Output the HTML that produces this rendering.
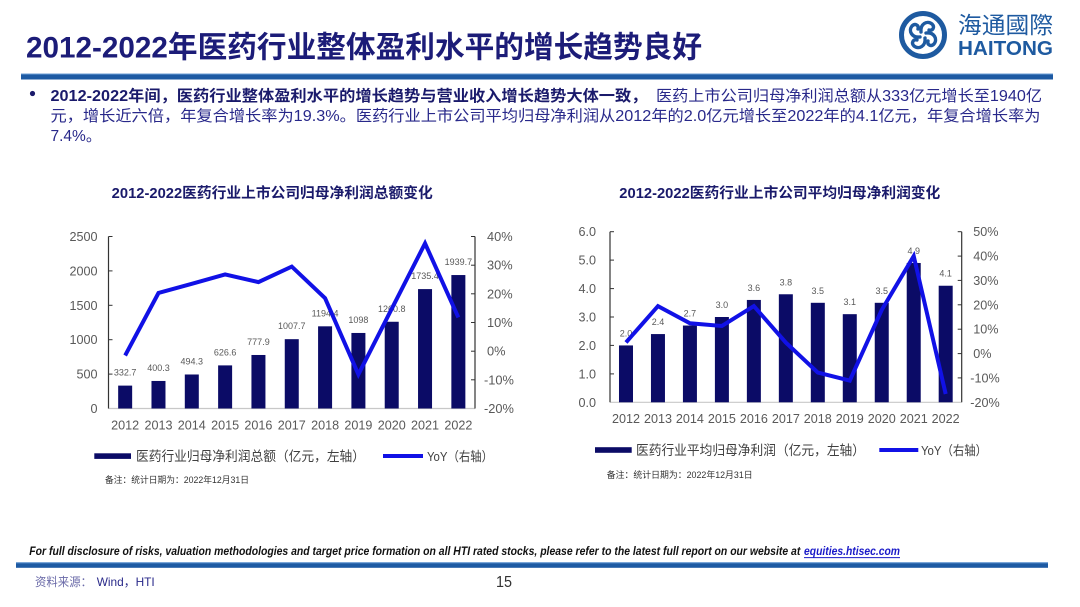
<!DOCTYPE html>
<html>
<head>
<meta charset="utf-8">
<style>
  html,body{margin:0;padding:0;background:#fff;}
  body{width:1080px;height:607px;overflow:hidden;}
  svg{display:block;}
  .f{font-family:"Liberation Sans","Noto Sans CJK SC",sans-serif;}
</style>
</head>
<body>
<svg width="1080" height="607" viewBox="0 0 1080 607" xmlns="http://www.w3.org/2000/svg" class="f">
  <rect x="0" y="0" width="1080" height="607" fill="#ffffff"/>

  <!-- Title -->
  <text x="26" y="57.5" font-size="30" font-weight="bold" fill="#1c1c78" textLength="676" lengthAdjust="spacingAndGlyphs">2012-2022年医药行业整体盈利水平的增长趋势良好</text>

  <!-- Logo -->
  <g fill="none" stroke="#1e5aa0">
    <circle cx="923" cy="35" r="21.5" stroke-width="5"/>
    <g stroke-width="3.4" stroke-linecap="round">
      <path d="M923,35 m-3,-3 C917,-0 0,0 0,0" stroke="none"/>
      <g transform="translate(923,35)">
        <path d="M-2,-3 C-3,-11 4,-15 9,-11 C12,-8 10,-4 6,-5"/>
        <path d="M-2,-3 C-3,-11 4,-15 9,-11 C12,-8 10,-4 6,-5" transform="rotate(90)"/>
        <path d="M-2,-3 C-3,-11 4,-15 9,-11 C12,-8 10,-4 6,-5" transform="rotate(180)"/>
        <path d="M-2,-3 C-3,-11 4,-15 9,-11 C12,-8 10,-4 6,-5" transform="rotate(270)"/>
      </g>
    </g>
  </g>
  <text x="958" y="33" font-size="23" fill="#1e5aa0" textLength="95" lengthAdjust="spacingAndGlyphs">海通國際</text>
  <text x="958" y="55" font-size="20.5" font-weight="bold" fill="#1e5aa0" textLength="95" lengthAdjust="spacingAndGlyphs">HAITONG</text>

  <!-- Top bar -->
  <rect x="21" y="73.5" width="1032" height="6" fill="#1d5aa3"/>
  <rect x="21" y="73.5" width="1032" height="1" fill="#6c9ed6"/>

  <!-- Bullet text -->
  <circle cx="32.5" cy="93.5" r="2.6" fill="#1a1a6b"/>
  <text x="50.5" y="101" font-size="15.5" font-weight="bold" fill="#1a1a6b" textLength="597" lengthAdjust="spacingAndGlyphs">2012-2022年间，医药行业整体盈利水平的增长趋势与营业收入增长趋势大体一致，</text>
  <text x="656" y="101" font-size="15.5" fill="#28288a" textLength="386" lengthAdjust="spacingAndGlyphs">医药上市公司归母净利润总额从333亿元增长至1940亿</text>
  <text x="50.5" y="121" font-size="15.5" fill="#28288a" textLength="990" lengthAdjust="spacingAndGlyphs">元，增长近六倍，年复合增长率为19.3%。医药行业上市公司平均归母净利润从2012年的2.0亿元增长至2022年的4.1亿元，年复合增长率为</text>
  <text x="50.5" y="141" font-size="15.5" fill="#28288a">7.4%。</text>

  <!-- ================= LEFT CHART ================= -->
  <text x="111.7" y="198" font-size="14.5" font-weight="bold" fill="#1a1a6b" textLength="321" lengthAdjust="spacingAndGlyphs">2012-2022医药行业上市公司归母净利润总额变化</text>

  <!-- axes -->
  <line x1="108.5" y1="408.5" x2="475" y2="408.5" stroke="#c8c8c8" stroke-width="1.2"/>
  <line x1="108.5" y1="236.5" x2="108.5" y2="408.5" stroke="#333" stroke-width="1.2"/>
  <line x1="475" y1="236.5" x2="475" y2="408.5" stroke="#333" stroke-width="1.2"/>
  <g stroke="#333" stroke-width="1">
    <line x1="108.5" y1="236.5" x2="112.5" y2="236.5"/>
    <line x1="108.5" y1="270.9" x2="112.5" y2="270.9"/>
    <line x1="108.5" y1="305.3" x2="112.5" y2="305.3"/>
    <line x1="108.5" y1="339.7" x2="112.5" y2="339.7"/>
    <line x1="108.5" y1="374.1" x2="112.5" y2="374.1"/>
    <line x1="471" y1="236.5" x2="475" y2="236.5"/>
    <line x1="471" y1="265.2" x2="475" y2="265.2"/>
    <line x1="471" y1="293.8" x2="475" y2="293.8"/>
    <line x1="471" y1="322.5" x2="475" y2="322.5"/>
    <line x1="471" y1="351.2" x2="475" y2="351.2"/>
    <line x1="471" y1="379.8" x2="475" y2="379.8"/>
  </g>

  <!-- left ticks -->
  <g font-size="12.6" fill="#595959" text-anchor="end">
    <text x="97.5" y="241">2500</text>
    <text x="97.5" y="275.4">2000</text>
    <text x="97.5" y="309.8">1500</text>
    <text x="97.5" y="344.2">1000</text>
    <text x="97.5" y="378.6">500</text>
    <text x="97.5" y="413">0</text>
  </g>
  <g font-size="12.8" fill="#595959">
    <text x="487" y="241">40%</text>
    <text x="487" y="269.7">30%</text>
    <text x="487" y="298.3">20%</text>
    <text x="487" y="327">10%</text>
    <text x="487" y="355.7">0%</text>
    <text x="484" y="384.3">-10%</text>
    <text x="484" y="413">-20%</text>
  </g>
  <g font-size="12.6" fill="#595959" text-anchor="middle">
    <text x="125.16" y="429.5">2012</text>
    <text x="158.48" y="429.5">2013</text>
    <text x="191.80" y="429.5">2014</text>
    <text x="225.12" y="429.5">2015</text>
    <text x="258.44" y="429.5">2016</text>
    <text x="291.76" y="429.5">2017</text>
    <text x="325.08" y="429.5">2018</text>
    <text x="358.40" y="429.5">2019</text>
    <text x="391.72" y="429.5">2020</text>
    <text x="425.04" y="429.5">2021</text>
    <text x="458.36" y="429.5">2022</text>
  </g>

  <!-- bars -->
  <g fill="#0b0b66">
    <rect x="118.16" y="385.61" width="14" height="22.89"/>
    <rect x="151.48" y="380.96" width="14" height="27.54"/>
    <rect x="184.80" y="374.49" width="14" height="34.01"/>
    <rect x="218.12" y="365.39" width="14" height="43.11"/>
    <rect x="251.44" y="354.98" width="14" height="53.52"/>
    <rect x="284.76" y="339.17" width="14" height="69.33"/>
    <rect x="318.08" y="326.32" width="14" height="82.18"/>
    <rect x="351.40" y="332.96" width="14" height="75.54"/>
    <rect x="384.72" y="321.76" width="14" height="86.74"/>
    <rect x="418.04" y="289.10" width="14" height="119.40"/>
    <rect x="451.36" y="275.05" width="14" height="133.45"/>
  </g>
  <g font-size="9" fill="#595959" text-anchor="middle">
    <text x="125.16" y="375.6">332.7</text>
    <text x="158.48" y="371">400.3</text>
    <text x="191.80" y="364.5">494.3</text>
    <text x="225.12" y="355.4">626.6</text>
    <text x="258.44" y="345">777.9</text>
    <text x="291.76" y="329.2">1007.7</text>
    <text x="325.08" y="316.3">1194.4</text>
    <text x="358.40" y="323">1098</text>
    <text x="391.72" y="311.8">1260.8</text>
    <text x="425.04" y="279.1">1735.4</text>
    <text x="458.36" y="265">1939.7</text>
  </g>
  <polyline fill="none" stroke="#1111e6" stroke-width="4" stroke-linejoin="miter" stroke-miterlimit="10"
    points="125.16,355.5 158.48,293.0 191.80,283.8 225.12,274.4 258.44,282.1 291.76,266.6 325.08,298.2 358.40,374.4 391.72,308.8 425.04,243.4 458.36,317.4"/>

  <!-- legend -->
  <rect x="94.3" y="453.3" width="36.7" height="5.6" fill="#0b0b66"/>
  <text x="136" y="461" font-size="13.5" fill="#404040" textLength="229" lengthAdjust="spacingAndGlyphs">医药行业归母净利润总额（亿元，左轴）</text>
  <line x1="383" y1="456" x2="423" y2="456" stroke="#1111e6" stroke-width="4"/>
  <text x="427" y="461" font-size="13" fill="#404040" textLength="66" lengthAdjust="spacingAndGlyphs">YoY（右轴）</text>
  <text x="105" y="483" font-size="9" fill="#333" textLength="144" lengthAdjust="spacingAndGlyphs">备注：统计日期为：2022年12月31日</text>

  <!-- ================= RIGHT CHART ================= -->
  <text x="619.3" y="198" font-size="14.5" font-weight="bold" fill="#1a1a6b" textLength="321" lengthAdjust="spacingAndGlyphs">2012-2022医药行业上市公司平均归母净利润变化</text>

  <line x1="610" y1="402.3" x2="961.7" y2="402.3" stroke="#c8c8c8" stroke-width="1.2"/>
  <line x1="610" y1="231.7" x2="610" y2="402.3" stroke="#333" stroke-width="1.2"/>
  <line x1="961.7" y1="231.7" x2="961.7" y2="402.3" stroke="#333" stroke-width="1.2"/>
  <g stroke="#333" stroke-width="1">
    <line x1="610" y1="231.7" x2="614" y2="231.7"/>
    <line x1="610" y1="260.1" x2="614" y2="260.1"/>
    <line x1="610" y1="288.6" x2="614" y2="288.6"/>
    <line x1="610" y1="317.0" x2="614" y2="317.0"/>
    <line x1="610" y1="345.4" x2="614" y2="345.4"/>
    <line x1="610" y1="373.9" x2="614" y2="373.9"/>
    <line x1="957.7" y1="231.7" x2="961.7" y2="231.7"/>
    <line x1="957.7" y1="256.1" x2="961.7" y2="256.1"/>
    <line x1="957.7" y1="280.4" x2="961.7" y2="280.4"/>
    <line x1="957.7" y1="304.8" x2="961.7" y2="304.8"/>
    <line x1="957.7" y1="329.2" x2="961.7" y2="329.2"/>
    <line x1="957.7" y1="353.6" x2="961.7" y2="353.6"/>
    <line x1="957.7" y1="377.9" x2="961.7" y2="377.9"/>
  </g>
  <g font-size="12.6" fill="#595959" text-anchor="end">
    <text x="596" y="236.2">6.0</text>
    <text x="596" y="264.6">5.0</text>
    <text x="596" y="293.1">4.0</text>
    <text x="596" y="321.5">3.0</text>
    <text x="596" y="349.9">2.0</text>
    <text x="596" y="378.4">1.0</text>
    <text x="596" y="406.8">0.0</text>
  </g>
  <g font-size="12.6" fill="#595959">
    <text x="973.3" y="236.2">50%</text>
    <text x="973.3" y="260.6">40%</text>
    <text x="973.3" y="284.9">30%</text>
    <text x="973.3" y="309.3">20%</text>
    <text x="973.3" y="333.7">10%</text>
    <text x="973.3" y="358.1">0%</text>
    <text x="970.3" y="382.4">-10%</text>
    <text x="970.3" y="406.8">-20%</text>
  </g>
  <g font-size="12.6" fill="#595959" text-anchor="middle">
    <text x="625.99" y="422.8">2012</text>
    <text x="657.96" y="422.8">2013</text>
    <text x="689.93" y="422.8">2014</text>
    <text x="721.90" y="422.8">2015</text>
    <text x="753.87" y="422.8">2016</text>
    <text x="785.84" y="422.8">2017</text>
    <text x="817.81" y="422.8">2018</text>
    <text x="849.78" y="422.8">2019</text>
    <text x="881.75" y="422.8">2020</text>
    <text x="913.72" y="422.8">2021</text>
    <text x="945.69" y="422.8">2022</text>
  </g>
  <g fill="#0b0b66">
    <rect x="618.99" y="345.44" width="14" height="56.86"/>
    <rect x="650.96" y="334.07" width="14" height="68.23"/>
    <rect x="682.93" y="325.54" width="14" height="76.76"/>
    <rect x="714.90" y="317.01" width="14" height="85.29"/>
    <rect x="746.87" y="299.95" width="14" height="102.35"/>
    <rect x="778.84" y="294.27" width="14" height="108.03"/>
    <rect x="810.81" y="302.80" width="14" height="99.50"/>
    <rect x="842.78" y="314.17" width="14" height="88.13"/>
    <rect x="874.75" y="302.80" width="14" height="99.50"/>
    <rect x="906.72" y="262.99" width="14" height="139.31"/>
    <rect x="938.69" y="285.74" width="14" height="116.56"/>
  </g>
  <g font-size="9" fill="#595959" text-anchor="middle">
    <text x="625.99" y="336.4">2.0</text>
    <text x="657.96" y="325">2.4</text>
    <text x="689.93" y="316.5">2.7</text>
    <text x="721.90" y="308">3.0</text>
    <text x="753.87" y="291">3.6</text>
    <text x="785.84" y="285.3">3.8</text>
    <text x="817.81" y="293.8">3.5</text>
    <text x="849.78" y="305.2">3.1</text>
    <text x="881.75" y="293.8">3.5</text>
    <text x="913.72" y="254">4.9</text>
    <text x="945.69" y="276.7">4.1</text>
  </g>
  <polyline fill="none" stroke="#1111e6" stroke-width="4" stroke-linejoin="miter" stroke-miterlimit="10"
    points="625.99,342.4 657.96,306.1 689.93,323.3 721.90,326.0 753.87,306.1 785.84,342.6 817.81,372.6 849.78,380.6 881.75,309.9 913.72,256.1 945.69,394.0"/>

  <rect x="595" y="447.2" width="36.7" height="5.6" fill="#0b0b66"/>
  <text x="636" y="455" font-size="13.5" fill="#404040" textLength="229" lengthAdjust="spacingAndGlyphs">医药行业平均归母净利润（亿元，左轴）</text>
  <line x1="879.3" y1="450" x2="918.3" y2="450" stroke="#1111e6" stroke-width="4"/>
  <text x="921" y="455" font-size="13" fill="#404040" textLength="66" lengthAdjust="spacingAndGlyphs">YoY（右轴）</text>
  <text x="606.7" y="478" font-size="9" fill="#333" textLength="146" lengthAdjust="spacingAndGlyphs">备注：统计日期为：2022年12月31日</text>

  <!-- Footer -->
  <text x="29.3" y="555" font-size="12" font-weight="bold" font-style="italic" fill="#111" textLength="771" lengthAdjust="spacingAndGlyphs">For full disclosure of risks, valuation methodologies and target price formation on all HTI rated stocks, please refer to the latest full report on our website at</text>
  <text x="804" y="555" font-size="12" font-weight="bold" font-style="italic" fill="#1a1ac8" textLength="96" lengthAdjust="spacingAndGlyphs">equities.htisec.com</text>
  <line x1="804" y1="557.6" x2="900" y2="557.6" stroke="#1a1ac8" stroke-width="1"/>

  <rect x="16" y="562.3" width="1032" height="5.5" fill="#1d5aa3"/>
  <rect x="16" y="562.3" width="1032" height="1" fill="#6c9ed6"/>

  <text x="35" y="586" font-size="12" fill="#6a6aa8" textLength="57" lengthAdjust="spacingAndGlyphs">资料来源：</text>
  <text x="96.7" y="586" font-size="12" fill="#2a2a8a" textLength="58" lengthAdjust="spacingAndGlyphs">Wind，HTI</text>
  <text x="496" y="587" font-size="16" fill="#333" textLength="16" lengthAdjust="spacingAndGlyphs">15</text>
</svg>
</body>
</html>
